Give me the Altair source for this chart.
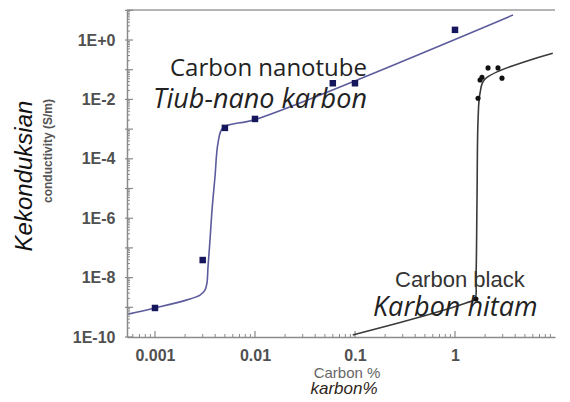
import altair as alt
import pandas as pd

# ---------------- data ----------------
# Carbon nanotube: measured points
cnt_x = [0.001, 0.003, 0.005, 0.01, 0.06, 0.1, 1.0]
cnt_y = [9.5e-10, 3.9e-8, 1.1e-3, 2.2e-3, 3.5e-2, 3.5e-2, 2.2]

# Carbon nanotube: fitted curve
cnt_fit_x = [5.4e-4, 1.0e-3, 2.09e-3, 2.82e-3, 3.16e-3, 3.31e-3, 3.39e-3, 3.55e-3,
             3.72e-3, 3.98e-3, 4.27e-3, 4.79e-3, 1.05e-2, 3.8]
cnt_fit_y = [5.9e-10, 9.5e-10, 1.78e-9, 2.57e-9, 3.8e-9, 6.6e-9, 2.3e-8, 1.86e-7,
             1.9e-6, 2.45e-5, 3.4e-4, 1.1e-3, 2.2e-3, 6.9]

# Carbon black: measured points
cb_x = [1.62, 1.70, 1.78, 1.86, 2.14, 2.69, 2.95]
cb_y = [1.9e-9, 1.1e-2, 4.5e-2, 5.6e-2, 0.115, 0.115, 5.2e-2]

# Carbon black: fitted curve
cb_fit_x = [0.095, 0.447, 1.29, 1.58, 1.62, 1.66, 1.70, 1.78, 2.0, 9.5]
cb_fit_y = [1.17e-10, 4.7e-10, 1.4e-9, 1.9e-9, 8.3e-9, 4.1e-6, 2.0e-3, 1.64e-2, 4.9e-2, 0.36]

# axis tick labels
y_label_values = [1e-10, 1e-8, 1e-6, 1e-4, 1e-2, 1.0]
x_label_values = [0.001, 0.01, 0.1, 1.0]

# ---------------- tables ----------------
cnt_pts = pd.DataFrame({"x": cnt_x, "y": cnt_y})
cnt_fit = pd.DataFrame({"x": cnt_fit_x, "y": cnt_fit_y, "o": list(range(len(cnt_fit_x)))})
cb_pts = pd.DataFrame({"x": cb_x, "y": cb_y})
cb_fit = pd.DataFrame({"x": cb_fit_x, "y": cb_fit_y, "o": list(range(len(cb_fit_x)))})

y_minor = pd.DataFrame({"v": [k * 10.0 ** d for d in range(-10, 1) for k in range(2, 10)]})
y_major = pd.DataFrame({"v": [10.0 ** d for d in range(-10, 2)]})
x_minor = pd.DataFrame({"v": [k * 10.0 ** d for d in range(-4, 1) for k in range(2, 10)
                              if 5.3e-4 < k * 10.0 ** d < 10]})
x_major = pd.DataFrame({"v": [10.0 ** d for d in range(-3, 1)]})

xs = alt.Scale(type="log", domain=[5.25e-4, 10])
ys = alt.Scale(type="log", domain=[1e-10, 10.25])

W, H = 428, 327

AX = alt.Axis(values=x_label_values, format="~g", title=None, grid=False, ticks=False,
              labelFontSize=16, labelFontWeight="bold", labelColor="#505050",
              labelFont="Liberation Sans", labelPadding=10,
              domainColor="#8a8a8a", domainWidth=1.5)
AY = alt.Axis(values=y_label_values, title=None, grid=False, ticks=False,
              labelExpr="datum.value >= 0.5 ? '1E+0' : '1E' + round(log(datum.value)/LN10)",
              labelFontSize=16, labelFontWeight="bold", labelColor="#505050",
              labelFont="Liberation Sans", labelPadding=12,
              domainColor="#8a8a8a", domainWidth=1.5)


def X(field):
    return alt.X(field, scale=xs, axis=AX)


def Y(field):
    return alt.Y(field, scale=ys, axis=AY)


cnt_line = alt.Chart(cnt_fit).mark_line(color="#5c5c9c", strokeWidth=1.6, interpolate="catmull-rom").encode(
    x=X("x:Q"), y=Y("y:Q"), order="o:Q")
cnt_sq = alt.Chart(cnt_pts).mark_square(color="#16165c", size=42, opacity=1).encode(
    x=X("x:Q"), y=Y("y:Q"))
cb_line = alt.Chart(cb_fit).mark_line(color="#3a3a3a", strokeWidth=1.6, interpolate="catmull-rom").encode(
    x=X("x:Q"), y=Y("y:Q"), order="o:Q")
cb_dot = alt.Chart(cb_pts).mark_circle(color="#111111", size=26, opacity=1).encode(
    x=X("x:Q"), y=Y("y:Q"))

ytick_minor = alt.Chart(y_minor).mark_rule(color="#8a8a8a", strokeWidth=1).encode(
    y=Y("v:Q"), x=alt.value(0), x2=alt.value(3))
ytick_major = alt.Chart(y_major).mark_rule(color="#8a8a8a", strokeWidth=1.2).encode(
    y=Y("v:Q"), x=alt.value(-2), x2=alt.value(6))
xtick_minor = alt.Chart(x_minor).mark_rule(color="#8a8a8a", strokeWidth=1).encode(
    x=X("v:Q"), y=alt.value(H), y2=alt.value(H - 3))
xtick_major = alt.Chart(x_major).mark_rule(color="#8a8a8a", strokeWidth=1.2).encode(
    x=X("v:Q"), y=alt.value(H), y2=alt.value(H - 6))

top_line = alt.Chart(pd.DataFrame({"a": [0]})).mark_rule(color="#b5b5b5", strokeWidth=2).encode(
    x=alt.value(0), x2=alt.value(W), y=alt.value(0))


def label(text, px, py, size, color="#222222", font="Open Sans", style="normal",
          weight="normal", angle=0, align="left"):
    kw = dict(fontSize=size, color=color, font=font, fontStyle=style, fontWeight=weight,
              align=align, baseline="alphabetic")
    if angle:
        kw["angle"] = angle
    return alt.Chart(pd.DataFrame({"t": [text]})).mark_text(**kw).encode(
        text="t:N", x=alt.value(px), y=alt.value(py))


texts = [
    label("Carbon nanotube", 43, 66, 24),
    label("Tiub-nano karbon", 26, 98, 27, style="italic"),
    label("Carbon black", 268, 277, 22, color="#333333", font="Liberation Sans"),
    label("Karbon hitam", 246, 306, 27, style="italic"),
    label("Kekonduksian", -95, 166, 24, color="#111111", font="Liberation Sans",
          style="italic", angle=270, align="center"),
    label("conductivity (S/m)", -75, 141, 12, color="#555555", font="Liberation Sans",
          weight="bold", angle=270, align="center"),
    label("Carbon %", 220, 368, 15, color="#666666", font="Liberation Sans", align="center"),
    label("karbon%", 217, 384, 17, color="#2e2418", font="Liberation Sans",
          style="italic", align="center"),
]

chart = alt.layer(
    cnt_line, top_line, ytick_minor, ytick_major, xtick_minor, xtick_major,
    cb_line, cnt_sq, cb_dot, *texts
).properties(
    width=W, height=H,
    autosize=alt.AutoSizeParams(type="none"),
    padding={"left": 119, "top": 2, "right": 7, "bottom": 64},
    background="white",
).configure_view(stroke=None)

chart.save("out.html", embed_options={"renderer": "svg", "actions": False})
